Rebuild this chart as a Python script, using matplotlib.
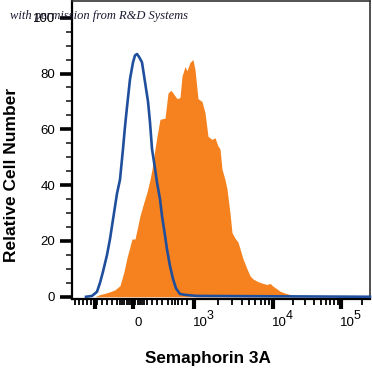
import numpy as np
import matplotlib
matplotlib.use("Agg")
import matplotlib.pyplot as plt

plt.rcParams["font.family"] = ["Liberation Sans", "DejaVu Sans"]

# x is in display channels of the logicle axis (0 = zero tick)
ZERO = 133

# isotype control (blue outline)
ctrl_x = np.array([86, 92, 97, 100, 103, 107, 110, 114, 117, 120, 123, 125, 127, 130,
                   133, 135, 137, 139, 142, 145, 148, 150, 152, 155, 157, 160, 162,
                   165, 167, 170, 173, 176, 180, 185, 190, 197, 370]) - ZERO
ctrl_y = [0, 0.3, 1.8, 5, 9, 15, 20.7, 30, 37, 42, 53, 61, 68, 78,
          84, 86.5, 87, 86, 84, 77, 70, 62.5, 53, 46, 41, 35, 29,
          22, 17, 11, 6.4, 3, 1, 0.7, 0.5, 0.3, 0]

# Semaphorin 3A stained (orange fill)
sema_x = np.array([95, 100, 105, 110, 115, 120, 124, 127, 130, 132, 135, 137, 140, 144,
                   147, 150, 152, 155, 157, 160, 165, 168, 171, 173, 177, 180, 182,
                   185, 187, 190, 193, 195, 198, 202, 205, 208, 212, 215, 218, 220,
                   222, 225, 227, 230, 232, 235, 238, 243, 247, 250, 253, 258, 263,
                   267, 270, 273, 277, 280, 285, 290, 295, 300]) - ZERO
sema_y = [0, 0.8, 1.2, 1.8, 2.5, 4, 9, 14, 18, 20.7, 20.7, 24, 29, 34,
          37.5, 42, 45.7, 53, 57.5, 63.6, 64, 73, 74, 73, 71, 71.4, 79,
          82.5, 81, 84, 85, 81.4, 71, 70, 66, 57.5, 56.4, 57, 54, 53,
          45.7, 42, 38.6, 30, 23, 21, 19.6, 13.6, 10, 7.5, 6.4, 5.4, 4.8,
          4.4, 4.8, 3.8, 2.8, 2, 1.3, 0.8, 0.3, 0]

y_ticks = [0, 20, 40, 60, 80, 100]
x_exponents = [None, "3", "4", "5"]
x_major = np.array([133, 194, 273, 341]) - ZERO
x_neg_major = 95 - ZERO

fig = plt.figure(figsize=(3.72, 3.73), dpi=100)
ax = fig.add_axes([72 / 372, 1 - 299 / 373, 298 / 372, 298 / 373])

ax.fill_between(sema_x, sema_y, 0, color="#F5821F", linewidth=0, zorder=2)
ax.plot(ctrl_x, ctrl_y, color="#1F4F9C", linewidth=1.9, zorder=3,
        solid_joinstyle="round", clip_on=False)

ax.set_xlim(72 - ZERO, 370 - ZERO)
ax.set_ylim(-0.8, 106)

# y axis
ax.set_yticks(y_ticks)
ax.set_yticklabels([str(v) for v in y_ticks], fontsize=9.5)
ax.set_yticks(np.arange(0, 101, 5), minor=True)
ax.tick_params(axis="y", which="major", direction="out", length=9, width=2.6,
               pad=3, color="black")
ax.tick_params(axis="y", which="minor", direction="out", length=4, width=1.2,
               color="#222222")

# x axis: logicle-style ticks, labels placed as text
minor = [75, 79, 83, 87, 91, 97, 102, 107, 112, 117]
minor += list(np.arange(120, 146, 2.2))
minor += [147, 152, 157, 162, 168, 172, 175, 178, 182, 187]
decades = [194, 273, 341, 410]
for a, b in zip(decades[:-1], decades[1:]):
    minor += [a + np.log10(k) * (b - a) for k in range(2, 10)]
minor = [m - ZERO for m in minor if m < 370]
ax.set_xticks(list(x_major) + [x_neg_major])
ax.set_xticklabels([])
ax.set_xticks(minor, minor=True)
ax.tick_params(axis="x", which="major", direction="out", length=7, width=3,
               color="black")
ax.tick_params(axis="x", which="minor", direction="out", length=4, width=1.3,
               color="black")

xt = ax.get_xaxis_transform()
for pos, exp in zip(x_major, x_exponents):
    if exp is None:
        ax.text(pos + 5, -0.081, "0", transform=xt, ha="center", va="center",
                fontsize=9.5)
    else:
        ax.text(pos + 6, -0.081, "10", transform=xt, ha="center", va="center",
                fontsize=9.5)
        ax.text(pos + 16, -0.058, exp, transform=xt, ha="center", va="center",
                fontsize=9)

for side in ["left", "bottom"]:
    ax.spines[side].set_linewidth(1.6)
    ax.spines[side].set_color("black")
for side in ["top", "right"]:
    ax.spines[side].set_linewidth(1.2)
    ax.spines[side].set_color("#333333")

fig.text(12 / 372, 1 - 175 / 373, "Relative Cell Number", rotation=90,
         ha="center", va="center", fontsize=12.5, fontweight="bold")
fig.text(208 / 372, 1 - 359 / 373, "Semaphorin 3A",
         ha="center", va="center", fontsize=12.3, fontweight="bold")
fig.text(10 / 372, 1 - 16 / 373, "with permission from R&D Systems",
         ha="left", va="center", fontsize=9, style="italic",
         family="Liberation Serif", color="#1a1a33")

fig.savefig("out.png", dpi=100)
